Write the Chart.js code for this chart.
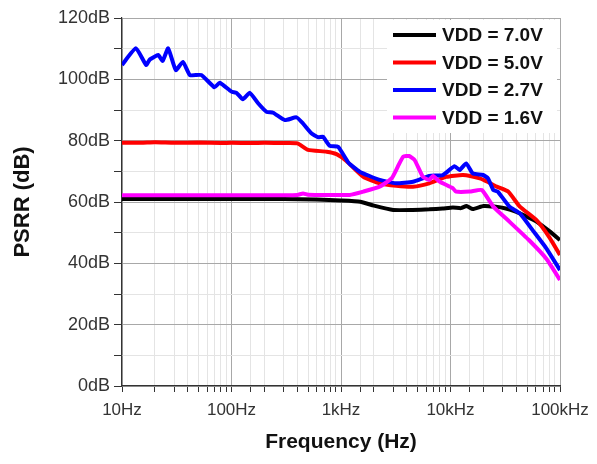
<!DOCTYPE html>
<html>
<head>
<meta charset="utf-8">
<script src="https://cdn.jsdelivr.net/npm/chart.js@4.4.0/dist/chart.umd.min.js"></script>
<style>
  html, body { margin: 0; padding: 0; background: #fff; }
  #wrap { width: 597px; height: 464px; }
</style>
</head>
<body>
<div id="wrap"><canvas id="psrrChart" width="597" height="464"></canvas></div>
<script>
// values (frequency in Hz, PSRR in dB)
var seriesNames = ["VDD = 7.0V", "VDD = 5.0V", "VDD = 2.7V", "VDD = 1.6V"];
var seriesColors = ["#000000", "#ff0000", "#0000ff", "#ff00ff"];

var vdd70Freq = [10, 30, 100, 300, 600, 1000, 1500, 2000, 3000, 4500, 6400, 8500, 10500, 12500, 14000, 16000, 20000, 25000, 32000, 40000, 46000, 61000, 80000, 100000];
var vdd70Db = [61, 61, 61, 61, 60.8, 60.5, 60.1, 58.8, 57.4, 57.4, 57.6, 57.9, 58.2, 58.0, 58.7, 57.7, 58.7, 58.5, 57.9, 56.8, 55.8, 53.6, 50.5, 47.6];

var vdd50Freq = [10, 15, 20, 30, 50, 80, 100, 150, 200, 300, 400, 500, 740, 910, 1120, 1600, 2250, 3200, 4540, 6400, 9140, 13000, 18500, 22000, 26500, 33600, 43000, 61000, 80000, 100000];
var vdd50Db = [79.3, 79.3, 79.5, 79.3, 79.4, 79.2, 79.3, 79.2, 79.3, 79.2, 79.1, 77, 76.4, 75.6, 73.4, 68.2, 66.1, 65.3, 65, 66.1, 68.2, 68.8, 67.7, 66.5, 65, 63.4, 58.5, 54.1, 48.5, 42.7];

var vdd27Freq = [10, 13.4, 16.6, 18, 21.4, 23.5, 26.4, 31, 36, 41.7, 53, 70, 78, 100, 111, 127, 147, 175, 209, 240, 307, 392, 450, 536, 620, 683, 790, 940, 1170, 1480, 2250, 3170, 4540, 6400, 8500, 10900, 12100, 13900, 16000, 19800, 22000, 24600, 27000, 34500, 43000, 56000, 75000, 100000];
var vdd27Db = [104.7, 110.1, 104.7, 106.5, 107.9, 106, 110.1, 103, 105.7, 101.4, 101.4, 97.4, 98.9, 96, 95.6, 93.5, 95.6, 92.2, 89.4, 89.1, 86.7, 87.6, 85.6, 82.4, 81.1, 81.3, 78.3, 78, 72.8, 69.9, 67.2, 66.1, 66.6, 68.5, 68.8, 71.7, 70.4, 72.6, 69.3, 68.8, 67.7, 63.9, 63.4, 58.5, 56.3, 50.9, 44.9, 37.8];

var vdd16Freq = [10, 100, 300, 400, 450, 500, 800, 1200, 1600, 2250, 2900, 3300, 3700, 4200, 4700, 5600, 6400, 6900, 8000, 10500, 11200, 15000, 19300, 24600, 34500, 52000, 75000, 100000];
var vdd16Db = [62.2, 62.2, 62.2, 62.3, 62.8, 62.4, 62.3, 62.3, 63.4, 65, 67.7, 71.5, 74.8, 75, 73.7, 68.2, 67.2, 68.5, 66.6, 64.5, 63.4, 63.4, 63.9, 58.5, 53.6, 47.6, 41.5, 34.6];

var xTickLabels = {10: "10Hz", 100: "100Hz", 1000: "1kHz", 10000: "10kHz", 100000: "100kHz"};
var yTickLabels = {0: "0dB", 20: "20dB", 40: "40dB", 60: "60dB", 80: "80dB", 100: "100dB", 120: "120dB"};

function toPoints(freqs, dbs) {
    var pts = [];
    for (var i = 0; i < freqs.length; i++) {
        pts.push({x: freqs[i], y: dbs[i]});
    }
    return pts;
}

function isDecade(v) {
    var l = Math.log10(v);
    return Math.abs(l - Math.round(l)) < 1e-6;
}

var allFreqs = [vdd70Freq, vdd50Freq, vdd27Freq, vdd16Freq];
var allDb = [vdd70Db, vdd50Db, vdd27Db, vdd16Db];
var drawOrder = [3, 2, 1, 0];

var datasets = [];
for (var s = 0; s < seriesNames.length; s++) {
    datasets.push({
        label: seriesNames[s],
        data: toPoints(allFreqs[s], allDb[s]),
        borderColor: seriesColors[s],
        backgroundColor: seriesColors[s],
        borderWidth: 4,
        pointRadius: 0,
        tension: 0.15,
        order: drawOrder[s]
    });
}

// legend box drawn inside the plot, top right
var boxLegend = {
    id: "boxLegend",
    afterDatasetsDraw: function (chart) {
        var c = chart.ctx;
        var area = chart.chartArea;
        var left = area.right - 173;
        var top = area.top + 2;
        c.save();
        c.fillStyle = "#ffffff";
        c.fillRect(left, top, 170, 113);
        c.font = "bold 19px 'Liberation Sans', Arial, sans-serif";
        c.textBaseline = "middle";
        c.lineWidth = 4;
        for (var i = 0; i < seriesNames.length; i++) {
            var y = top + 15 + i * 27.5;
            c.strokeStyle = seriesColors[i];
            c.beginPath();
            c.moveTo(left + 6, y);
            c.lineTo(left + 49, y);
            c.stroke();
            c.fillStyle = "#111";
            c.fillText(seriesNames[i], left + 55, y + 1);
        }
        c.restore();
    }
};

var ctx = document.getElementById("psrrChart");
var psrrChart = new Chart(ctx, {
    type: "line",
    data: {datasets: datasets},
    options: {
        responsive: false,
        animation: false,
        layout: {padding: {top: 18, right: 37, left: 0, bottom: 0}},
        plugins: {legend: {display: false}, tooltip: {enabled: false}},
        scales: {
            x: {
                type: "logarithmic",
                min: 10,
                max: 100000,
                afterFit: function (scale) { scale.height = 78; },
                border: {color: "#333", width: 1.2},
                grid: {
                    color: function (c) { return c.tick && isDecade(c.tick.value) ? "#a8a8a8" : "#e4e4e4"; },
                    tickColor: "#333",
                    tickLength: 6
                },
                ticks: {
                    autoSkip: false,
                    maxRotation: 0,
                    padding: 8,
                    color: "#333",
                    font: {family: "'Liberation Sans', Arial, sans-serif", size: 17},
                    callback: function (v) { return xTickLabels[v] !== undefined && isDecade(v) ? xTickLabels[v] : ""; }
                },
                title: {
                    display: true,
                    text: "Frequency (Hz)",
                    color: "#111",
                    padding: {top: 0, bottom: 9},
                    font: {family: "'Liberation Sans', Arial, sans-serif", size: 21, weight: "bold"}
                }
            },
            y: {
                min: 0,
                max: 120,
                afterFit: function (scale) { scale.width = 122; },
                border: {color: "#333", width: 1.2},
                grid: {
                    color: function (c) { return c.tick && c.tick.value % 20 === 0 ? "#a8a8a8" : "#e4e4e4"; },
                    tickColor: "#333",
                    tickLength: 8
                },
                ticks: {
                    stepSize: 10,
                    padding: 4,
                    color: "#333",
                    font: {family: "'Liberation Sans', Arial, sans-serif", size: 18},
                    callback: function (v) { return yTickLabels[v] !== undefined ? yTickLabels[v] : ""; }
                },
                title: {
                    display: true,
                    text: "PSRR (dB)",
                    color: "#111",
                    padding: {top: 10, bottom: 0},
                    font: {family: "'Liberation Sans', Arial, sans-serif", size: 22, weight: "bold"}
                }
            }
        }
    },
    plugins: [boxLegend]
});
</script>
</body>
</html>
